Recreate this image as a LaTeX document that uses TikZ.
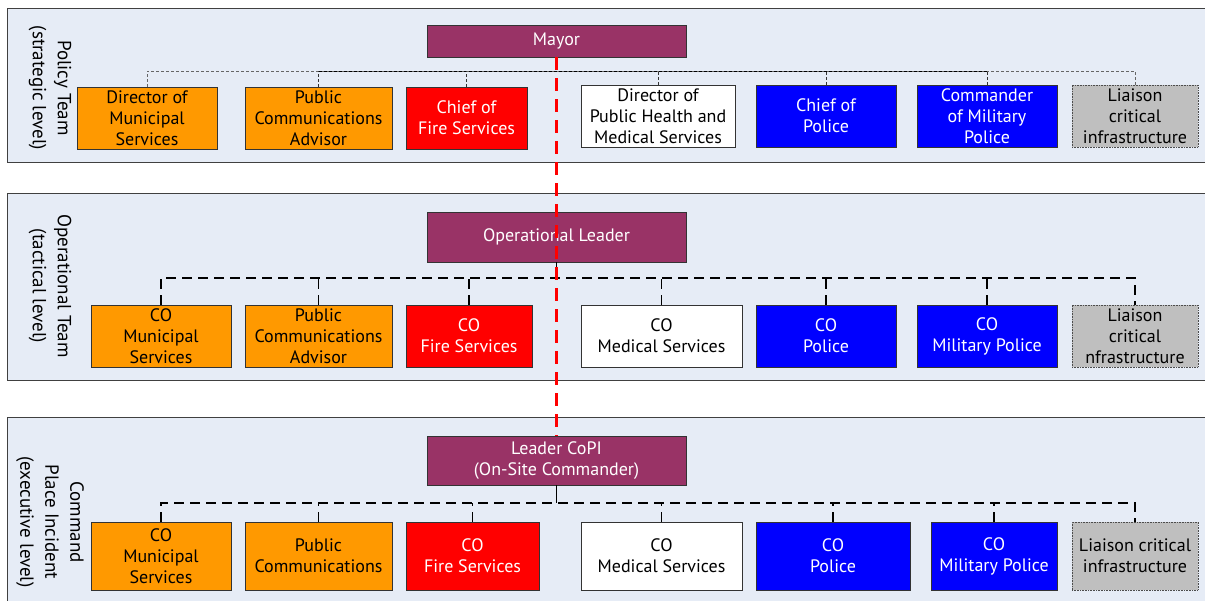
\documentclass[tikz,border=0pt]{standalone}
\usepackage{fontspec}
\setmainfont{PT Sans}
\definecolor{panelfill}{HTML}{E6ECF6}
\definecolor{panelline}{HTML}{404040}
\definecolor{orng}{HTML}{FF9900}
\definecolor{purp}{HTML}{993366}
\definecolor{lgray}{HTML}{BFBFBF}
\begin{document}
\begin{tikzpicture}[x=1pt,y=-1pt,
  panel/.style={draw=panelline,fill=panelfill,line width=0.8pt},
  box/.style={draw=black!80,line width=0.6pt,align=center,inner sep=1pt,
     font=\fontsize{18}{21}\selectfont},
  obox/.style={box,fill=orng,text=black},
  rbox/.style={box,fill=red,text=white},
  wbox/.style={box,fill=white,text=black},
  bbox/.style={box,fill=blue,text=white},
  gbox/.style={box,fill=lgray,text=black,draw=black!70,densely dotted},
  lead/.style={box,fill=purp,text=white,minimum width=259pt},
  lvl/.style={rotate=-90,align=center,font=\fontsize{19}{25}\selectfont},
  fine/.style={densely dashed,line width=0.7pt,dash pattern=on 3pt off 2pt},
  coarse/.style={line width=1.3pt,dash pattern=on 10pt off 6pt},
  redline/.style={red,line width=2.2pt,dash pattern=on 13pt off 8pt}]
\useasboundingbox (0,0) rectangle (1205,601);
% panels
\draw[panel] (7,8) rectangle (1215,162);
\draw[panel] (7,193) rectangle (1215,380);
\draw[panel] (7,417) rectangle (1215,610);
% level labels
\node[lvl] (l1) at (50,88) {Policy Team\\(strategic level)};
\node[lvl] (l2) at (50,286) {Operational Team\\(tactical level)};
\node[lvl] (l3) at (50,522) {Command\\Place Incident\\(executive level)};
% leaders
\node[lead,minimum height=32pt] (mayor) at (556.5,41) {Mayor};
\node[lead,minimum height=50pt] (opl) at (556.5,237) {Operational Leader};
\node[lead,minimum height=49pt] (copi) at (556.5,460.5) {Leader CoPI\\(On-Site Commander)};
% row 1
\begin{scope}[every node/.append style={minimum height=62pt}]
\node[obox,minimum width=140pt] (a1) at (147,118) {Director of\\Municipal\\Services};
\node[obox,minimum width=147pt] (a2) at (318.5,118) {Public\\Communications\\Advisor};
\node[rbox,minimum width=121pt] (a3) at (466.5,118) {Chief of\\Fire Services};
\node[wbox,minimum width=154pt] (a4) at (658,116) {Director of\\Public Health and\\Medical Services};
\node[bbox,minimum width=140pt] (a5) at (826,116) {Chief of\\Police};
\node[bbox,minimum width=140pt] (a6) at (987,116) {Commander\\of Military\\Police};
\node[gbox,minimum width=126pt] (a7) at (1135,116) {Liaison\\critical\\infrastructure};
% row 2
\node[obox,minimum width=140pt] (b1) at (161,336) {CO\\Municipal\\Services};
\node[obox,minimum width=147pt] (b2) at (318.5,336) {Public\\Communications\\Advisor};
\node[rbox,minimum width=126pt] (b3) at (469,336) {CO\\Fire Services};
\node[wbox,minimum width=161pt] (b4) at (661.5,336) {CO\\Medical Services};
\node[bbox,minimum width=140pt] (b5) at (826,336) {CO\\Police};
\node[bbox,minimum width=140pt] (b6) at (987,336) {CO\\Military Police};
\node[gbox,minimum width=126pt] (b7) at (1135,336) {Liaison\\critical\\nfrastructure};
\end{scope}
% row 3
\begin{scope}[every node/.append style={minimum height=68pt}]
\node[obox,minimum width=140pt] (c1) at (161,556) {CO\\Municipal\\Services};
\node[obox,minimum width=147pt] (c2) at (318.5,556) {Public\\Communications};
\node[rbox,minimum width=133pt] (c3) at (472.5,556) {CO\\Fire Services};
\node[wbox,minimum width=161pt] (c4) at (661.5,556) {CO\\Medical Services};
\node[bbox,minimum width=154pt] (c5) at (833,556) {CO\\Police};
\node[bbox,minimum width=126pt] (c6) at (994,556) {CO\\Military Police};
\node[gbox,minimum width=126pt] (c7) at (1135,556) {Liaison critical\\infrastructure};
\end{scope}
% bus coordinates
\coordinate (bus1) at (556.5,71);
\coordinate (bus2) at (556.5,278);
\coordinate (bus3) at (556.5,503);
% row 1 connectors
\draw[fine,black!60] (a1.north) |- (bus1) -| (a7.north);
\draw[fine,black] (a2.north |- bus1) -- (a6.north |- bus1);
\foreach \n in {a2,a3,a4,a5,a6}{\draw[fine,black!80] (\n.north) -- (\n.north |- bus1);}
% row 2 connectors
\draw[coarse] (b1.north) |- (bus2) -| (b7.north);
\foreach \n in {b2,b3,b4,b5,b6}{\draw[coarse] (\n.north) -- (\n.north |- bus2);}
\draw[line width=1.3pt] (opl.south) -- (bus2);
% row 3 connectors
\draw[coarse] (c1.north) |- (bus3) -| (c7.north);
\foreach \n in {c2,c3,c4,c5,c6}{\draw[coarse] (\n.north) -- (\n.north |- bus3);}
\draw[line width=1.3pt] (copi.south) -- (bus3);
% red command line
\draw[redline] (mayor.south) -- (copi.north);
\end{tikzpicture}
\end{document}
